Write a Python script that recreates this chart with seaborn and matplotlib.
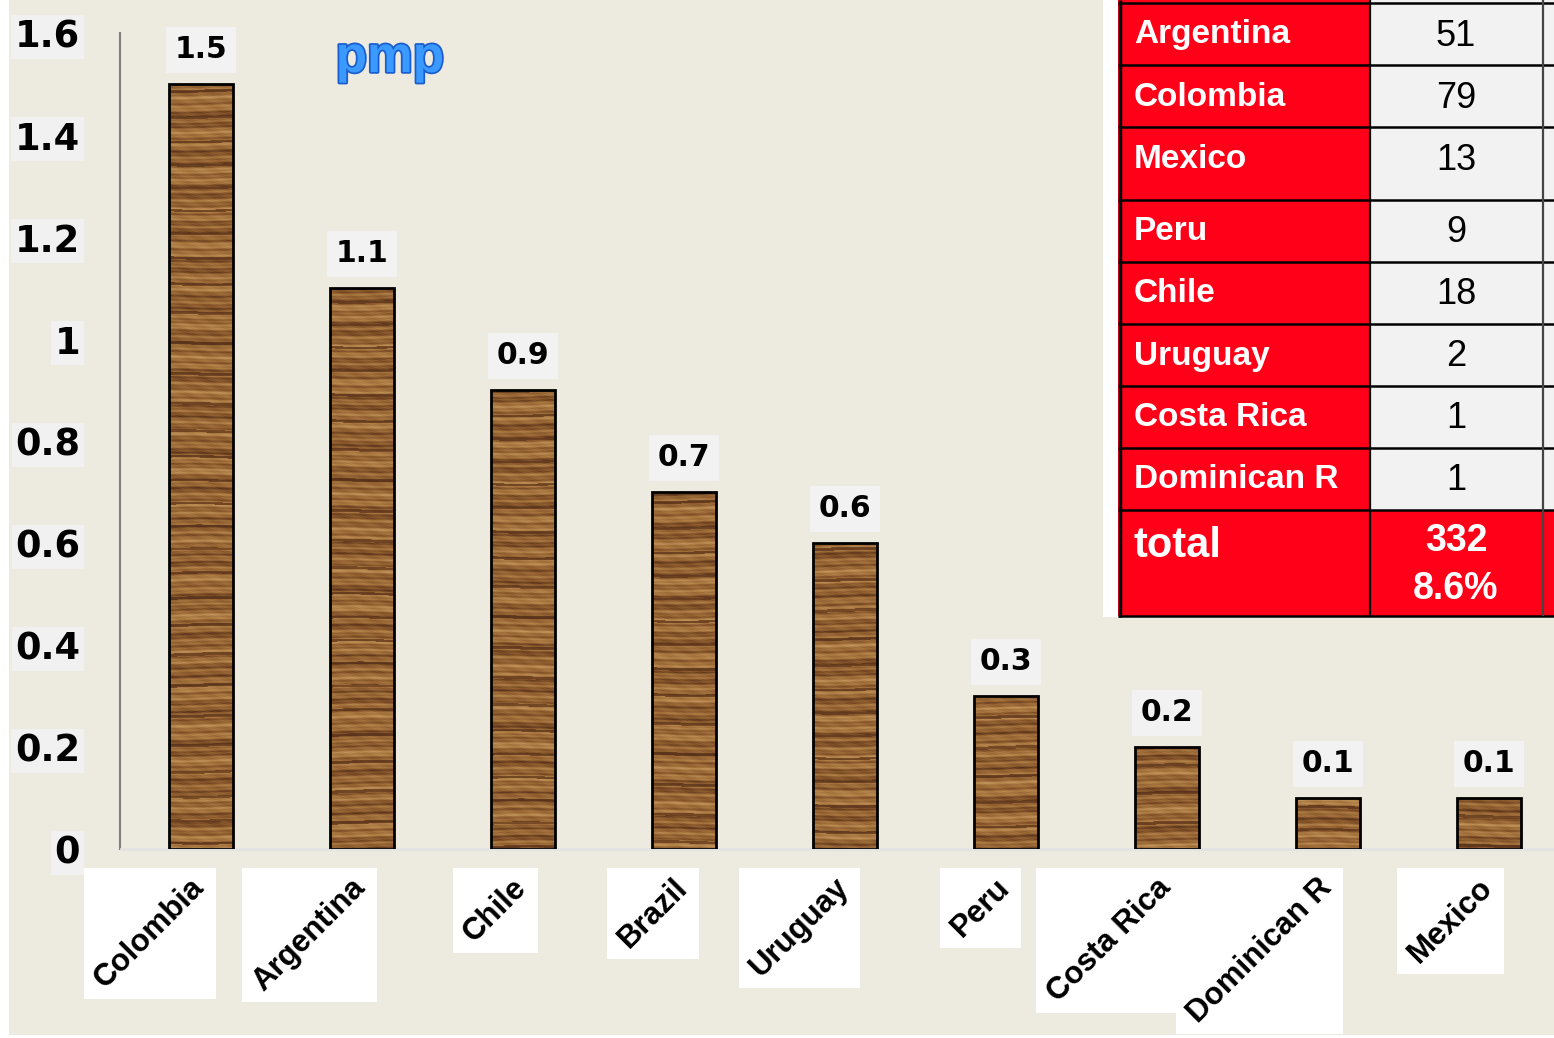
import numpy as np
import matplotlib
matplotlib.use("Agg")
import matplotlib.pyplot as plt
import matplotlib.patheffects as pe
from matplotlib.colors import LinearSegmentedColormap
from matplotlib.patches import Rectangle
import seaborn as sns

# datos del grafico (pmp por pais)
countries = ["Colombia", "Argentina", "Chile", "Brazil", "Uruguay", "Peru",
             "Costa Rica", "Dominican R", "Mexico"]
pmp = [1.5, 1.1, 0.9, 0.7, 0.6, 0.3, 0.2, 0.1, 0.1]
yticks = [0, 0.2, 0.4, 0.6, 0.8, 1.0, 1.2, 1.4, 1.6]
ytick_labels = ["0", "0.2", "0.4", "0.6", "0.8", "1", "1.2", "1.4", "1.6"]

# tabla de la derecha
table_countries = ["Argentina", "Colombia", "Mexico", "Peru", "Chile",
                   "Uruguay", "Costa Rica", "Dominican R"]
table_counts = [51, 79, 13, 9, 18, 2, 1, 1]
table_total = 332
table_share = "8.6%"

sns.set_style("white")
plt.rcParams["font.family"] = ["Liberation Sans", "DejaVu Sans"]
plt.rcParams["text.color"] = "black"
plt.rcParams["xtick.color"] = "black"
plt.rcParams["ytick.color"] = "black"

BG = "#EDEAE0"
RED = "#FF0018"
W_PX, H_PX = 1554, 1038


def wood(h, w, shift):
    # textura de madera (vetas horizontales), determinista
    y = np.arange(h)[:, None] + shift
    x = np.arange(w)[None, :]
    yy = y + 0.8 * np.sin(x * 0.05 + y * 0.01)
    v = (0.5
         + 0.18 * np.sin(yy * 0.6 + 3.0 * np.sin(yy * 0.04))
         + 0.12 * np.sin(yy * 1.6 + 1.1 * np.sin(yy * 0.13))
         + 0.12 * np.sin(yy * 0.17)
         + 0.06 * np.sin(x * 0.25 + yy * 0.5)
         + 0.04 * np.sin(x * 0.9 + yy * 2.7))
    v = (v - v.min()) / (v.max() - v.min())
    lines = np.sin(yy * 0.24 + 2.0 * np.sin(yy * 0.019))
    v = np.where(lines > 0.95, v * 0.3, v)
    return v


wood_cmap = LinearSegmentedColormap.from_list(
    "wood", ["#55301a", "#86552a", "#a87740", "#c4975e"])

fig = plt.figure(figsize=(W_PX / 100, H_PX / 100), dpi=100, facecolor=BG)

# fondo (cajas blancas de etiquetas)
bg = fig.add_axes([0, 0, 1, 1], zorder=0)
bg.set_xlim(0, W_PX)
bg.set_ylim(0, H_PX)
bg.axis("off")
bg.add_patch(Rectangle((0, 0), 9, H_PX, fc="white", ec="none"))
bg.add_patch(Rectangle((0, 0), W_PX, 3, fc="white", ec="none"))

# 1. Barras
ax = fig.add_axes([120.5 / W_PX, 189 / H_PX, 1449 / W_PX, 816 / H_PX], zorder=1)
ax.set_facecolor("none")
sns.barplot(x=countries, y=pmp, order=countries, width=0.4, color="#a06a38",
            edgecolor="black", linewidth=2, errorbar=None, ax=ax)

for i, bar in enumerate(ax.patches):
    x0 = bar.get_x()
    tex = wood(816, 64, i * 137)
    im = ax.imshow(tex, extent=[x0, x0 + bar.get_width(), 0, 1.6], origin="lower",
                   aspect="auto", cmap=wood_cmap, interpolation="bilinear", zorder=2)
    im.set_clip_path(bar)
    bar.set_facecolor("none")
    bar.set_zorder(3)

ax.set_xlim(-0.5, 8.5)
ax.set_ylim(0, 1.6)

# valores sobre las barras
for i, v in enumerate(pmp):
    ax.annotate(f"{v:g}", xy=(i, v), xytext=(0, 24.5), textcoords="offset points",
                ha="center", va="center", fontsize=21.5, fontweight="bold",
                family="DejaVu Sans", color="black", zorder=4,
                bbox=dict(boxstyle="square,pad=0.3", fc="#F2F2F2", ec="none"))

# ejes
ax.set_yticks(yticks)
ax.set_yticklabels(ytick_labels, fontsize=26.5, fontweight="bold", family="DejaVu Sans")
for lbl in ax.get_yticklabels():
    lbl.set_bbox(dict(boxstyle="square,pad=0.1", fc="#F1F1F1", ec="none"))
ax.tick_params(axis="y", length=10, width=1.5, color="#7f7f7f", labelcolor="black",
               pad=19, direction="out")

ax.set_xticks(range(len(countries)))
ax.tick_params(axis="x", which="major", length=0, labelbottom=False)
ax.set_xticks(np.arange(-0.5, len(countries), 1), minor=True)
ax.tick_params(axis="x", which="minor", length=7, width=1.5, color="#E2E2E2")
ax.set_xlabel("")
ax.set_ylabel("")

for s in ["top", "right"]:
    ax.spines[s].set_visible(False)
ax.spines["left"].set_color("#7f7f7f")
ax.spines["left"].set_linewidth(1.5)
ax.spines["bottom"].set_color("#E3E3E3")
ax.spines["bottom"].set_linewidth(2)

# etiquetas de paises giradas
xlabels = []
for i, name in enumerate(countries):
    t = ax.annotate(name, xy=(i, 0), xycoords=("data", "axes fraction"),
                    xytext=(7, -17), textcoords="offset points", rotation=45,
                    ha="right", va="top", fontsize=22.5, fontweight="bold",
                    color="black", annotation_clip=False, zorder=5)
    xlabels.append(t)

# 2. Tabla y texto pmp
ov = fig.add_axes([0, 0, 1, 1], zorder=5)
ov.set_xlim(0, W_PX)
ov.set_ylim(H_PX, 0)
ov.axis("off")
ov.set_facecolor("none")

ov.text(390, 72, "pmp", ha="center", va="baseline", fontsize=37, fontweight="bold",
        color="#3A9AFF",
        path_effects=[pe.withStroke(linewidth=2.5, foreground="#1A5CCF")])

row_tops = [3, 65, 127, 200, 262, 324, 386, 448, 510]
table_bottom = 616
ov.add_patch(Rectangle((1103, 0), 16, table_bottom + 1, fc="white", ec="none"))
ov.add_patch(Rectangle((1118, 0), 252, table_bottom, fc=RED, ec="none"))
ov.add_patch(Rectangle((1370, 0), 184, row_tops[-1], fc="#F1F2F1", ec="none"))
ov.add_patch(Rectangle((1370, row_tops[-1]), 184, table_bottom - row_tops[-1], fc=RED, ec="none"))
ov.hlines(row_tops + [table_bottom], 1118, W_PX, color="black", lw=1.8)
ov.vlines(1370, 0, table_bottom, color="black", lw=1.6)
ov.vlines(1543, 0, table_bottom, color="#444444", lw=1.6)
ov.vlines(1119.5, 0, table_bottom + 1, color="black", lw=2.5)

for name, n, top in zip(table_countries, table_counts, row_tops):
    ov.text(1134, top + 32, name, ha="left", va="center", fontsize=24,
            fontweight="bold", color="white")
    ov.text(1456, top + 33, str(n), ha="center", va="center", fontsize=26, color="black")

ov.text(1134, 546, "total", ha="left", va="center", fontsize=30,
        fontweight="bold", color="white")
ov.text(1456, 541, str(table_total), ha="center", va="center", fontsize=27,
        fontweight="bold", color="white")
ov.text(1456, 589, table_share, ha="center", va="center", fontsize=27,
        fontweight="bold", color="white")

# cajas blancas detras de las etiquetas giradas
fig.canvas.draw()
renderer = fig.canvas.get_renderer()
for t in xlabels:
    bb = t.get_window_extent(renderer)
    bg.add_patch(Rectangle((bb.x0 - 5, bb.y0 - 5), bb.width + 10, bb.height + 10,
                           fc="white", ec="none"))

fig.savefig("out.png", dpi=100, facecolor=fig.get_facecolor())
